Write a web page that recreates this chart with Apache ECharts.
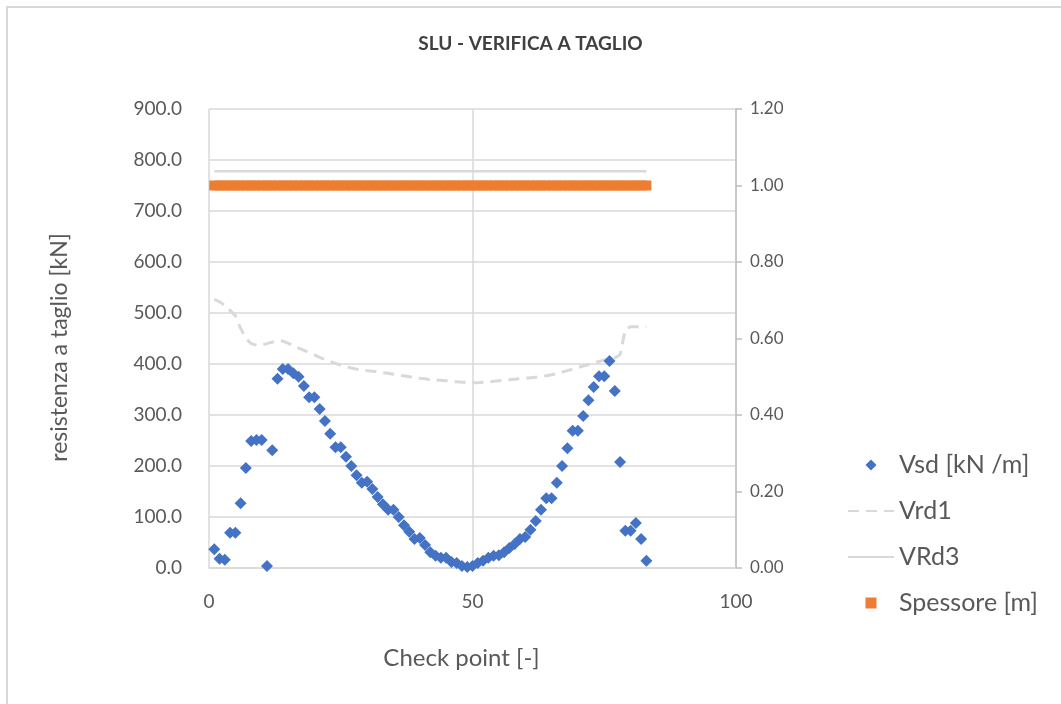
<!DOCTYPE html>
<html>
<head>
<meta charset="utf-8">
<title>SLU - VERIFICA A TAGLIO</title>
<script src="https://cdn.jsdelivr.net/npm/echarts@6/dist/echarts.min.js"></script>
<style>
  html, body { margin: 0; padding: 0; background: #fff; }
  #chart { width: 1061px; height: 704px; }
</style>
</head>
<body>
<div id="chart"></div>
<script>
// check points (x)
var checkPoints = [1, 2, 3, 4, 5, 6, 7, 8, 9, 10, 11, 12, 13, 14, 15, 16, 17, 18, 19, 20,
  21, 22, 23, 24, 25, 26, 27, 28, 29, 30, 31, 32, 33, 34, 35, 36, 37, 38, 39, 40,
  41, 42, 43, 44, 45, 46, 47, 48, 49, 50, 51, 52, 53, 54, 55, 56, 57, 58, 59, 60,
  61, 62, 63, 64, 65, 66, 67, 68, 69, 70, 71, 72, 73, 74, 75, 76, 77, 78, 79, 80,
  81, 82, 83];

// Vsd [kN /m]
var vsd = [37, 18, 16, 69, 69, 127, 196, 249, 251, 251, 4, 231, 371, 390, 390, 382, 375, 357, 335, 335,
  312, 288, 263, 237, 237, 218, 200, 182, 167, 169, 155, 139, 125, 114, 114, 100, 84, 71, 57, 59,
  45, 31, 24, 20, 20, 12, 10, 4, 2, 4, 10, 14, 20, 24, 25, 31, 39, 47, 57, 61,
  75, 92, 114, 137, 137, 167, 200, 235, 269, 269, 298, 329, 355, 376, 376, 406, 347, 208, 73, 73,
  88, 57, 14];

// Vrd1
var vrd1 = [527, 522, 515, 505, 495, 470, 450, 440, 437, 437, 440, 443, 445, 445, 441, 436, 431, 427, 422, 418,
  413, 409, 405, 401, 398, 395, 392, 390, 388, 387, 386, 385, 383, 382, 380, 378, 377, 375, 374, 372,
  371, 369, 368, 368, 367, 366, 365, 364, 364, 363, 363, 364, 365, 366, 367, 368, 369, 370, 371, 372,
  373, 374, 375, 377, 379, 381, 384, 387, 390, 393, 396, 399, 402, 405, 408, 410, 412, 418, 468, 473,
  473, 473, 473];

// VRd3
var vrd3 = [778, 778, 778, 778, 778, 778, 778, 778, 778, 778, 778, 778, 778, 778, 778, 778, 778, 778, 778, 778,
  778, 778, 778, 778, 778, 778, 778, 778, 778, 778, 778, 778, 778, 778, 778, 778, 778, 778, 778, 778,
  778, 778, 778, 778, 778, 778, 778, 778, 778, 778, 778, 778, 778, 778, 778, 778, 778, 778, 778, 778,
  778, 778, 778, 778, 778, 778, 778, 778, 778, 778, 778, 778, 778, 778, 778, 778, 778, 778, 778, 778,
  778, 778, 778];

// Spessore [m] (asse destro)
var spessore = [1, 1, 1, 1, 1, 1, 1, 1, 1, 1, 1, 1, 1, 1, 1, 1, 1, 1, 1, 1,
  1, 1, 1, 1, 1, 1, 1, 1, 1, 1, 1, 1, 1, 1, 1, 1, 1, 1, 1, 1,
  1, 1, 1, 1, 1, 1, 1, 1, 1, 1, 1, 1, 1, 1, 1, 1, 1, 1, 1, 1,
  1, 1, 1, 1, 1, 1, 1, 1, 1, 1, 1, 1, 1, 1, 1, 1, 1, 1, 1, 1,
  1, 1, 1];

var seriesNames = ['Vsd [kN /m]', 'Vrd1', 'VRd3', 'Spessore [m]'];

var font = 'Lato, "Open Sans", sans-serif';
var gridColor = '#d9d9d9';
var textColor = '#595959';

// icone legenda (path, per mantenere le proporzioni)
var iconDiamond = 'path://M5,0L10,5L5,10L0,5Z';
var iconSquare = 'path://M0,0L10,0L10,10L0,10Z';

var pairs = function (xs, ys) {
  var out = [];
  for (var i = 0; i < xs.length; i++) {
    out.push([xs[i], ys[i]]);
  }
  return out;
};

var chart = echarts.init(document.getElementById('chart'));

var option = {
  backgroundColor: '#fff',
  animation: false,
  textStyle: { fontFamily: font },
  title: {
    text: 'SLU - VERIFICA A TAGLIO',
    left: 'center',
    top: 29,
    textStyle: { fontFamily: font, fontSize: 19, fontWeight: 'bold', color: '#404040' }
  },
  graphic: [{
    type: 'rect',
    shape: { x: 7, y: 7, width: 1100, height: 760 },
    style: { fill: 'none', stroke: '#d9d9d9', lineWidth: 2 },
    silent: true,
    z: -1
  }],
  legend: {
    orient: 'vertical',
    left: 842,
    top: 445,
    itemWidth: 46,
    itemHeight: 11,
    itemGap: 16,
    symbolKeepAspect: true,
    textStyle: { fontFamily: font, fontSize: 25, color: textColor, lineHeight: 30 },
    data: [
      { name: seriesNames[0], icon: iconDiamond },
      { name: seriesNames[1], itemStyle: { opacity: 0 } },
      { name: seriesNames[2], itemStyle: { opacity: 0 } },
      { name: seriesNames[3], icon: iconSquare }
    ]
  },
  grid: {
    left: 209,
    right: 325,
    top: 109,
    bottom: 136
  },
  xAxis: {
    type: 'value',
    min: 0,
    max: 100,
    interval: 50,
    name: 'Check point [-]',
    nameLocation: 'middle',
    nameGap: 78,
    nameTextStyle: { fontFamily: font, fontSize: 24, color: textColor, padding: [0, 22, 0, 0] },
    axisLine: { show: true, lineStyle: { color: gridColor, width: 1.5 } },
    axisTick: { show: false },
    axisLabel: { fontFamily: font, fontSize: 19, color: textColor, margin: 24 },
    splitLine: { show: true, lineStyle: { color: gridColor, width: 1.5 } }
  },
  yAxis: [{
    type: 'value',
    min: 0,
    max: 900,
    interval: 100,
    name: 'resistenza a taglio [kN]',
    nameLocation: 'middle',
    nameGap: 138,
    nameTextStyle: { fontFamily: font, fontSize: 23, color: textColor, padding: [0, 18, 0, 0] },
    axisLine: { show: false },
    axisTick: { show: false },
    axisLabel: {
      fontFamily: font, fontSize: 19, color: textColor, margin: 27,
      formatter: function (v) { return v.toFixed(1); }
    },
    splitLine: { show: true, lineStyle: { color: gridColor, width: 1.5 } }
  }, {
    type: 'value',
    min: 0,
    max: 1.2,
    interval: 0.2,
    position: 'right',
    axisLine: { show: true, lineStyle: { color: '#bfbfbf', width: 1.5 } },
    axisTick: { show: true, inside: false, length: 6, lineStyle: { color: '#bfbfbf', width: 1.5 } },
    axisLabel: {
      fontFamily: font, fontSize: 17, color: textColor, margin: 14,
      formatter: function (v) { return v.toFixed(2); }
    },
    splitLine: { show: false }
  }],
  series: [{
    name: seriesNames[0],
    type: 'scatter',
    symbol: 'diamond',
    symbolSize: 12,
    itemStyle: { color: '#4472c4', opacity: 1 },
    data: pairs(checkPoints, vsd),
    z: 3
  }, {
    name: seriesNames[1],
    type: 'line',
    showSymbol: false,
    symbol: 'none',
    lineStyle: { color: '#d9d9d9', width: 3, type: [11, 7] },
    itemStyle: { color: '#d9d9d9' },
    data: pairs(checkPoints, vrd1),
    z: 2
  }, {
    name: seriesNames[2],
    type: 'line',
    showSymbol: false,
    symbol: 'none',
    lineStyle: { color: '#d9d9d9', width: 2.5 },
    itemStyle: { color: '#d9d9d9' },
    data: pairs(checkPoints, vrd3),
    z: 2
  }, {
    name: seriesNames[3],
    type: 'scatter',
    yAxisIndex: 1,
    symbol: 'rect',
    symbolSize: 10,
    itemStyle: { color: '#ed7d31', opacity: 1 },
    data: pairs(checkPoints, spessore),
    z: 4
  }]
};

chart.setOption(option);
</script>
</body>
</html>
